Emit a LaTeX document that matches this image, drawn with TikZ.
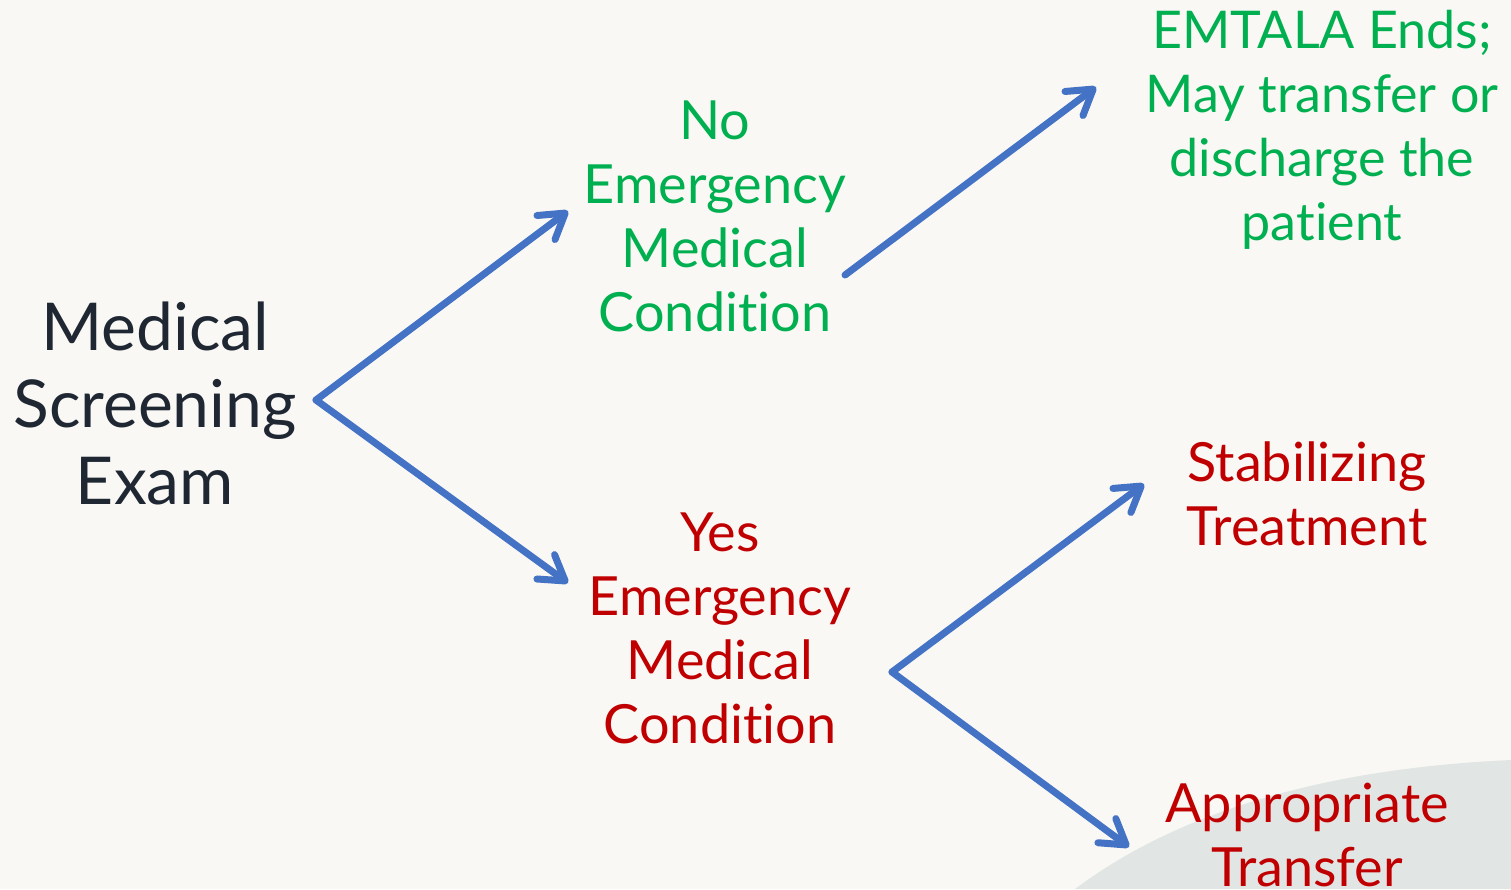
\documentclass[tikz,border=0pt]{standalone}
\usepackage{fontspec}
\setmainfont{Lato}[RawFeature={-liga;-dlig}]
\usetikzlibrary{arrows.meta}
\definecolor{bgc}{HTML}{F9F8F4}
\definecolor{blobc}{HTML}{E1E6E4}
\definecolor{arr}{HTML}{4472C4}
\definecolor{gtxt}{HTML}{00B050}
\definecolor{rtxt}{HTML}{C00000}
\definecolor{dtxt}{HTML}{1F2733}
\begin{document}
\begin{tikzpicture}[x=1pt,y=-1pt,
  conn/.style={draw=arr,line width=7pt,line cap=round,line join=round,-{Straight Barb[round,length=24pt,width=30pt]}},
  bigtxt/.style={align=center,inner sep=0pt,text=dtxt,font=\fontsize{66}{77}\selectfont},
  lbl/.style={align=center,inner sep=0pt,font=\fontsize{54}{64}\selectfont}]
\fill[bgc] (0,0) rectangle (1511,889);
\useasboundingbox (0,0) rectangle (1511,889);
\fill[blobc] (1075,889) .. controls (1180,810) and (1330,768) .. (1511,760) -- (1511,889) -- cycle;
\node[bigtxt] (mse) at (155,403) {Medical\\Screening\\Exam};
\node[lbl,text=gtxt] (no) at (715,216) {No\\Emergency\\Medical\\Condition};
\node[lbl,text=rtxt] (yes) at (720,628) {Yes\\Emergency\\Medical\\Condition};
\node[lbl,text=gtxt,font=\fontsize{52}{64}\selectfont] (ends) at (1322,130) {EMTALA Ends;\\May transfer or\\discharge the\\patient};
\node[lbl,text=rtxt] (stab) at (1307,494) {Stabilizing\\Treatment};
\node[lbl,text=rtxt] (transf) at (1307,835) {Appropriate\\Transfer};
\coordinate (f1) at (316,400);
\coordinate (f2) at (892,672);
\coordinate (s3) at (845,275);
\coordinate (t1) at (568,211);
\coordinate (t2) at (568,583);
\coordinate (t3) at (1096,87);
\coordinate (t4) at (1144,484);
\coordinate (t5) at (1129,847);
\draw[conn] (f1) -- (t1);
\draw[conn] (f1) -- (t2);
\draw[conn] (s3) -- (t3);
\draw[conn] (f2) -- (t4);
\draw[conn] (f2) -- (t5);
\end{tikzpicture}
\end{document}
